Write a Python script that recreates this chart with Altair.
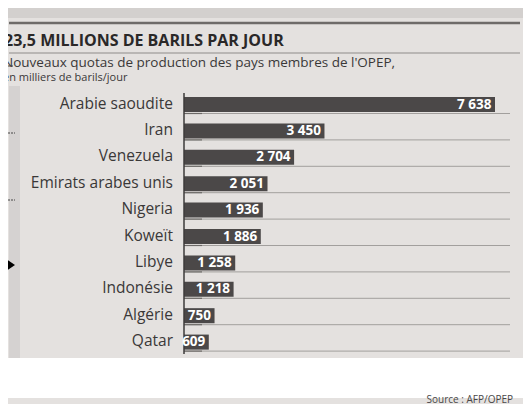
import altair as alt
import pandas as pd

countries = ["Arabie saoudite", "Iran", "Venezuela", "Emirats arabes unis", "Nigeria",
             "Koweït", "Libye", "Indonésie", "Algérie", "Qatar"]
quotas = [7638, 3450, 2704, 2051, 1936, 1886, 1258, 1218, 750, 609]
labels = [f"{v:,}".replace(",", " ") for v in quotas]

title = "23,5 MILLIONS DE BARILS PAR JOUR"
subtitle1 = "Nouveaux quotas de production des pays membres de l'OPEP,"
subtitle2 = "en milliers de barils/jour"
source = "Source : AFP/OPEP"

df = pd.DataFrame({"pays": countries, "quota": quotas, "label": labels})
one = pd.DataFrame({"k": [0]})

W, H = 515, 396
FONT = "Open Sans"
PAPER = "#e4e1df"
BAR = "#4b4848"
INK = "#3a3838"

yenc = alt.Y("pays:N", sort=countries, axis=None,
             scale=alt.Scale(range=[83.3, 347.3], paddingInner=0.43, paddingOuter=0.215))
xenc = alt.X("quota:Q", axis=None, scale=alt.Scale(domain=[0, 7638], range=[176, 487]))

base = alt.Chart(df)
deco = alt.Chart(one)

top_shade = deco.mark_rect(color="#d3d0ce").encode(
    x=alt.value(0), x2=alt.value(W), y=alt.value(0), y2=alt.value(10))
left_band = deco.mark_rect(color="#d5d2d1").encode(
    x=alt.value(1), x2=alt.value(12), y=alt.value(78), y2=alt.value(350))
white_band = deco.mark_rect(color="white").encode(
    x=alt.value(0), x2=alt.value(W), y=alt.value(350), y2=alt.value(390))

top_rule = deco.mark_rule(color="#6e6b69", strokeWidth=2.5).encode(
    x=alt.value(1), x2=alt.value(512), y=alt.value(15))
title_rule = deco.mark_rule(color="#8e8b89", strokeWidth=1.2).encode(
    x=alt.value(1), x2=alt.value(512), y=alt.value(45))

title_t = deco.mark_text(align="left", baseline="alphabetic", font=FONT, fontWeight="bold",
                         fontSize=16, color="#2a2828").encode(
    x=alt.value(-4), y=alt.value(38), text=alt.value(title))
sub1_t = deco.mark_text(align="left", baseline="alphabetic", font=FONT, fontSize=13.5,
                        color=INK).encode(
    x=alt.value(-5), y=alt.value(59), text=alt.value(subtitle1))
sub2_t = deco.mark_text(align="left", baseline="alphabetic", font=FONT, fontSize=11,
                        color=INK).encode(
    x=alt.value(-5), y=alt.value(73), text=alt.value(subtitle2))
source_t = deco.mark_text(align="right", baseline="alphabetic", font=FONT, fontSize=10,
                          color="#4a4848").encode(
    x=alt.value(505), y=alt.value(395), text=alt.value(source))

dash1 = deco.mark_rule(color="#444", strokeDash=[2, 1]).encode(
    x=alt.value(0), x2=alt.value(5), y=alt.value(58))
dash2 = deco.mark_rule(color="#444", strokeDash=[2, 1]).encode(
    x=alt.value(0), x2=alt.value(7), y=alt.value(125))
dash3 = deco.mark_rule(color="#444", strokeDash=[2, 1]).encode(
    x=alt.value(0), x2=alt.value(7), y=alt.value(192))
arrow = deco.mark_point(shape="M -1 -1.33 L 1 0 L -1 1.33 Z", filled=True, color="black",
                        size=225, opacity=1).encode(x=alt.value(-0.5), y=alt.value(257))

row_lines = base.mark_rule(color="#a29f9d", strokeWidth=1, yOffset=9).encode(
    y=yenc, x=alt.value(176), x2=alt.value(502))
row_ticks = base.mark_rule(color="#6d6a68", strokeWidth=1.2, yOffset=9).encode(
    y=yenc, x=alt.value(176), x2=alt.value(194))
bars = base.mark_bar(color=BAR).encode(x=xenc, y=yenc)
axis_line = deco.mark_rule(color="#3c3a3a", strokeWidth=1.5).encode(
    x=alt.value(176), y=alt.value(85), y2=alt.value(346))
names = base.mark_text(align="right", baseline="middle", font=FONT, fontSize=15.5,
                       color=INK, dy=-1).encode(y=yenc, x=alt.value(165), text="pays:N")
vals = base.mark_text(align="right", baseline="middle", font=FONT, fontWeight="bold",
                      fontSize=13.5, color="white", dx=-3.5).encode(
    x=xenc, y=yenc, text="label:N")

chart = alt.layer(
    top_shade, left_band, white_band, top_rule, title_rule, title_t, sub1_t, sub2_t,
    source_t, dash1, dash2, dash3, arrow, row_lines, row_ticks, bars, axis_line, names, vals
).properties(
    width=W, height=H, background=PAPER, padding=0,
    autosize=alt.AutoSizeParams(type="none")
).configure_view(stroke=None)

chart.save("out.html", embed_options={"renderer": "svg", "actions": False})
